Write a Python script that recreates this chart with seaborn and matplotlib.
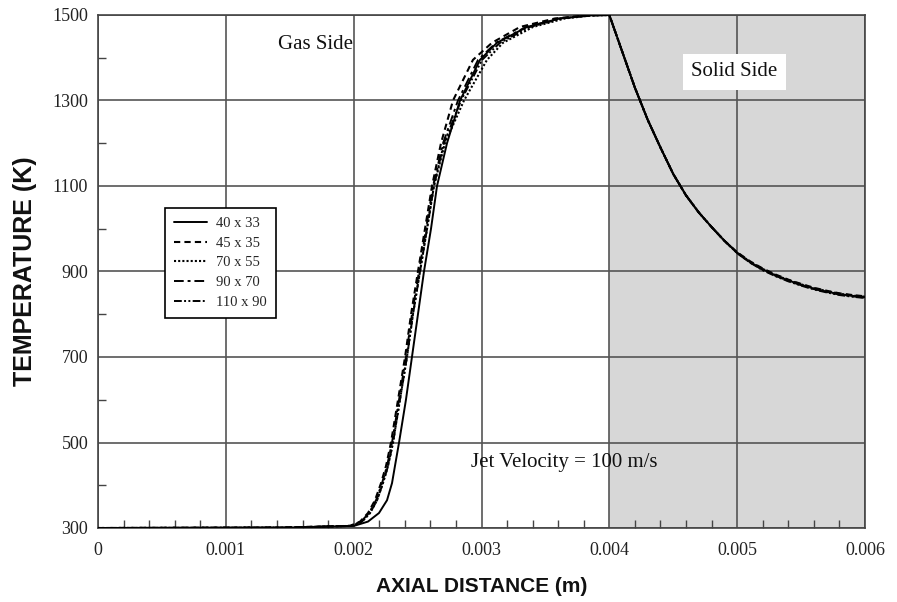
import numpy as np
import pandas as pd
import matplotlib
matplotlib.use("Agg")
import matplotlib.pyplot as plt
import seaborn as sns
from matplotlib.ticker import MultipleLocator

sns.set_theme(style="white")
plt.rcParams['font.family'] = ['Liberation Serif', 'DejaVu Serif']

# ---- data ----
mesh_labels = ["40 x 33", "45 x 35", "70 x 55", "90 x 70", "110 x 90"]

# gas side: common temperature levels, x position per mesh
gas_T = [300, 301, 305, 315, 335, 365, 405, 445, 500, 600, 700, 800, 900,
         1000, 1100, 1200, 1300, 1395, 1435, 1472, 1492, 1499, 1500]
gas_x_40 = [0, 0.001502, 0.002003, 0.002112, 0.002198, 0.002261, 0.002300, 0.002323,
            0.002355, 0.002409, 0.002456, 0.002503, 0.002550, 0.002605, 0.002652,
            0.002730, 0.002832, 0.002988, 0.003121, 0.003356, 0.003614, 0.003849, 0.004]
gas_x_45 = [0, 0.001424, 0.001971, 0.002050, 0.002112, 0.002167, 0.002214, 0.002253,
            0.002292, 0.002347, 0.002402, 0.002449, 0.002503, 0.002558, 0.002613,
            0.002683, 0.002777, 0.002933, 0.003082, 0.003301, 0.003575, 0.003810, 0.004]
gas_x_70 = [0, 0.001463, 0.001987, 0.002065, 0.002128, 0.002183, 0.002229, 0.002269,
            0.002308, 0.002362, 0.002417, 0.002464, 0.002519, 0.002574, 0.002628,
            0.002714, 0.002863, 0.003043, 0.003168, 0.003403, 0.003653, 0.003865, 0.004]
gas_x_90 = [0, 0.001447, 0.001979, 0.002058, 0.002120, 0.002175, 0.002222, 0.002261,
            0.002300, 0.002355, 0.002409, 0.002456, 0.002511, 0.002566, 0.002621,
            0.002699, 0.002816, 0.002973, 0.003113, 0.003348, 0.003614, 0.003849, 0.004]
gas_x_110 = [0, 0.001455, 0.001987, 0.002065, 0.002128, 0.002183, 0.002229, 0.002269,
             0.002308, 0.002362, 0.002417, 0.002464, 0.002519, 0.002574, 0.002628,
             0.002706, 0.002840, 0.003004, 0.003145, 0.003379, 0.003629, 0.003857, 0.004]

# solid side
solid_x = [0.0041, 0.0042, 0.0043, 0.0044, 0.0045, 0.0046, 0.0047, 0.0048, 0.0049,
           0.0050, 0.0051, 0.0052, 0.0053, 0.0054, 0.0055, 0.0056, 0.0057, 0.0058,
           0.0059, 0.0060]
solid_T_40 = [1415, 1330, 1255, 1190, 1128, 1078, 1038, 1004, 972, 944, 922, 905,
              891, 879, 869, 860, 853, 847, 843, 840]
solid_T_45 = [1415, 1330, 1255, 1190, 1128, 1078, 1038, 1004, 972, 945, 924, 907,
              893, 881, 871, 862, 855, 849, 845, 842]
solid_T_70 = [1415, 1330, 1255, 1190, 1128, 1078, 1038, 1004, 972, 944, 923, 906,
              892, 880, 870, 861, 854, 848, 844, 841]
solid_T_90 = [1415, 1330, 1255, 1190, 1128, 1078, 1038, 1004, 972, 943, 921, 904,
              890, 878, 868, 859, 852, 846, 842, 839]
solid_T_110 = [1415, 1330, 1255, 1190, 1128, 1078, 1038, 1004, 972, 943, 921, 903,
               889, 877, 867, 858, 851, 845, 841, 838]

x_ticks = [0, 0.001, 0.002, 0.003, 0.004, 0.005, 0.006]
x_tick_labels = ["0", "0.001", "0.002", "0.003", "0.004", "0.005", "0.006"]
y_ticks = [300, 500, 700, 900, 1100, 1300, 1500]

gas_xs = [gas_x_40, gas_x_45, gas_x_70, gas_x_90, gas_x_110]
solid_Ts = [solid_T_40, solid_T_45, solid_T_70, solid_T_90, solid_T_110]

rows = []
for lab, gx, sT in zip(mesh_labels, gas_xs, solid_Ts):
    for xv, tv in zip(gx, gas_T):
        rows.append((lab, xv, tv))
    for xv, tv in zip(solid_x, sT):
        rows.append((lab, xv, tv))
df = pd.DataFrame(rows, columns=["mesh", "x", "T"])

styles = {
    "40 x 33": dict(ls="-", lw=1.4),
    "45 x 35": dict(ls=(0, (3, 2)), lw=1.5),
    "70 x 55": dict(ls=(0, (1, 1)), lw=1.5),
    "90 x 70": dict(ls=(0, (5, 2, 1.5, 2)), lw=1.4),
    "110 x 90": dict(ls=(0, (4, 1.2, 1, 1.2, 1, 1.2)), lw=1.4),
}

fig = plt.figure(figsize=(8.97, 6.02), dpi=100)
ax = fig.add_axes([98/897, 74/602, 767/897, 513/602])

ax.axvspan(0.004, 0.006, color="#d7d7d7", zorder=0)

for lab in mesh_labels:
    sub = df[df["mesh"] == lab]
    sns.lineplot(data=sub, x="x", y="T", ax=ax, color="black",
                 linestyle=styles[lab]["ls"], linewidth=styles[lab]["lw"],
                 label=lab, sort=False, zorder=3)

ax.set_xlim(0, 0.006)
ax.set_ylim(300, 1500)
ax.set_xticks(x_ticks)
ax.set_xticklabels(x_tick_labels)
ax.set_yticks(y_ticks)
ax.xaxis.set_minor_locator(MultipleLocator(0.0002))
ax.yaxis.set_minor_locator(MultipleLocator(100))
ax.grid(True, which="major", color="#555555", linewidth=1.2, zorder=1)
ax.set_axisbelow(True)
ax.tick_params(axis="both", which="major", length=0, labelsize=13,
               labelcolor="#222222")
ax.tick_params(axis="x", which="major", pad=10)
ax.tick_params(axis="y", which="major", pad=7)
ax.tick_params(axis="x", which="minor", direction="in", length=6, width=1,
               color="#444444", bottom=True)
ax.tick_params(axis="y", which="minor", direction="in", length=6, width=1,
               color="#444444", left=True)
for s in ax.spines.values():
    s.set_color("#444444")
    s.set_linewidth(1.2)

ax.set_xlabel("AXIAL DISTANCE (m)", family="Liberation Sans", weight="bold",
              fontsize=15, labelpad=13, color="#111111")
ax.set_ylabel("TEMPERATURE (K)", family="Liberation Sans", weight="bold",
              fontsize=18, labelpad=11, color="#111111")

ax.text(0.001705, 1432, "Gas Side", fontsize=15, ha="center", va="center",
        color="#111111")
ax.text(0.00498, 1367, "Solid Side", fontsize=15, ha="center", va="center",
        color="#111111",
        bbox=dict(facecolor="white", edgecolor="none", pad=6))
ax.text(0.00365, 454, "Jet Velocity = 100 m/s", fontsize=15, ha="center",
        va="center", color="#111111")

leg = ax.legend(loc="upper left", bbox_to_anchor=(0.0874, 0.624), fontsize=10.5,
                frameon=True, fancybox=False, edgecolor="black", framealpha=1,
                handlelength=2.3, handletextpad=0.6, borderpad=0.6,
                labelspacing=0.45, borderaxespad=0)
leg.get_frame().set_linewidth(1.2)

fig.savefig("out.png", dpi=100)
